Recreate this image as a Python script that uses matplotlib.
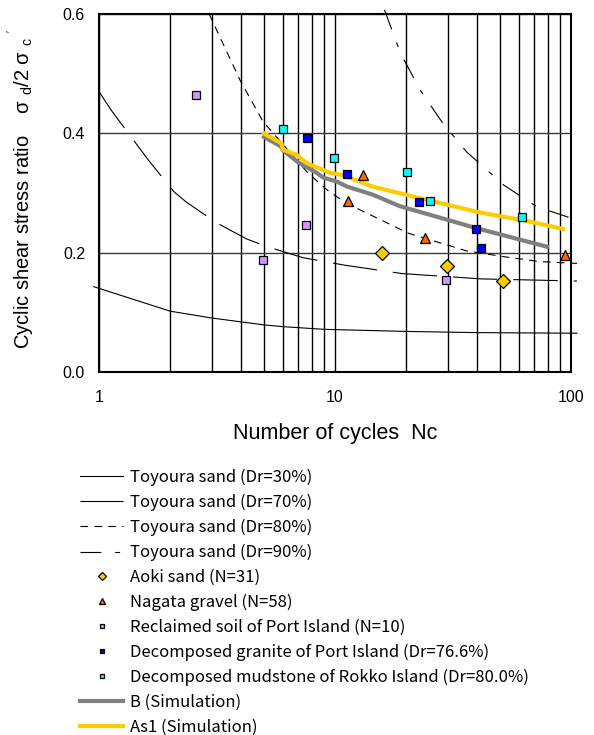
import matplotlib
matplotlib.use("Agg")
import matplotlib.pyplot as plt
from matplotlib.ticker import FixedLocator, NullFormatter

plt.rcParams['font.family'] = ['Liberation Sans', 'DejaVu Sans']
plt.rcParams['mathtext.fontset'] = 'custom'
plt.rcParams['mathtext.rm'] = 'Liberation Sans'
plt.rcParams['mathtext.default'] = 'regular'
plt.rcParams['lines.scale_dashes'] = False

# ---------------- data ----------------
toyo30_n = [0.95, 2, 3, 4, 5, 6, 9, 20, 40, 106]
toyo30_v = [0.143, 0.102, 0.0905, 0.084, 0.079, 0.076, 0.0715, 0.068, 0.066, 0.065]

toyo70_n = [1, 1.13, 1.62, 2.08, 2.34, 3.15, 4.22, 5.25, 7.34, 11.0, 19.2, 41.8, 106]
toyo70_v = [0.47, 0.438, 0.355, 0.302, 0.285, 0.25, 0.223, 0.209, 0.1915, 0.179, 0.165, 0.156, 0.1525]

toyo80_n = [2.93, 3.96, 4.95, 7.7, 9.4, 11, 12.8, 20.5, 36.1, 52.5, 73.9, 106]
toyo80_v = [0.600, 0.489, 0.42, 0.333, 0.303, 0.285, 0.2715, 0.2325, 0.203, 0.193, 0.185, 0.182]

toyo90_n = [16.2, 19.0, 23.1, 28.5, 36.1, 52, 71.6, 106]
toyo90_v = [0.607, 0.533, 0.471, 0.418, 0.369, 0.313, 0.277, 0.2547]

simB_n = [5, 5.9, 6.0, 7.0, 8.35, 8.9, 10.2, 11.2, 14.5, 18.8, 39.8, 79]
simB_v = [0.394, 0.378, 0.372, 0.351, 0.334, 0.326, 0.319, 0.311, 0.297, 0.278, 0.241, 0.21]

simAs1_n = [5, 5.94, 6.0, 6.88, 7.59, 9.52, 10.8, 14.5, 21.5, 39.8, 67, 92.7]
simAs1_v = [0.40, 0.383, 0.373, 0.364, 0.350, 0.334, 0.330, 0.3105, 0.294, 0.2686, 0.252, 0.2397]

aoki_n = [15.8, 29.9, 51.7]
aoki_v = [0.200, 0.178, 0.1525]
nagata_n = [11.4, 13.2, 24.1, 94.3]
nagata_v = [0.287, 0.330, 0.225, 0.196]
reclaimed_n = [2.57, 4.94, 7.52, 29.4]
reclaimed_v = [0.465, 0.187, 0.247, 0.155]
granite_n = [7.61, 11.2, 22.8, 39.4, 41.4]
granite_v = [0.392, 0.332, 0.285, 0.239, 0.207]
mudstone_n = [6.04, 9.93, 20.2, 25.3, 62.2]
mudstone_v = [0.407, 0.358, 0.336, 0.287, 0.259]

labels = ["Toyoura sand (Dr=30%)", "Toyoura sand (Dr=70%)", "Toyoura sand (Dr=80%)",
          "Toyoura sand (Dr=90%)", "Aoki sand (N=31)", "Nagata gravel (N=58)",
          "Reclaimed soil of Port Island (N=10)", "Decomposed granite of Port Island (Dr=76.6%)",
          "Decomposed mudstone of Rokko Island (Dr=80.0%)", "B (Simulation)", "As1 (Simulation)"]
yticks = [0.0, 0.2, 0.4, 0.6]
xticks = [1, 10, 100]

# ---------------- figure ----------------
fig = plt.figure(figsize=(5.94, 7.35), dpi=100)
ax = fig.add_axes([99 / 594, 1 - 372 / 735, 472 / 594, 358 / 735])
ax.set_xscale('log')
ax.set_xlim(1, 100)
ax.set_ylim(0, 0.6)

ax.xaxis.set_major_locator(FixedLocator(xticks))
ax.xaxis.set_minor_locator(FixedLocator([k * d for d in (1, 10) for k in range(2, 10)]))
ax.xaxis.set_minor_formatter(NullFormatter())
ax.set_xticklabels([str(x) for x in xticks])
ax.set_yticks(yticks)
ax.set_yticklabels([f"{y:.1f}" for y in yticks])
ax.tick_params(which='both', length=0, labelsize=11.5)
ax.tick_params(axis='y', pad=10)
ax.tick_params(axis='x', pad=13)
ax.grid(axis='x', which='both', color='black', lw=1.0)
ax.grid(axis='y', which='major', color='#3a3a3a', lw=1.0)
for s in ax.spines.values():
    s.set_linewidth(1.5)
    s.set_color('black')
    s.set_zorder(5)

lw_thin = 0.8
handles = []
h, = ax.plot(toyo30_n, toyo30_v, color='black', lw=lw_thin, clip_on=False)
handles.append(h)
h, = ax.plot(toyo70_n, toyo70_v, color='black', lw=lw_thin, dashes=(32, 11.5), clip_on=False)
handles.append(h)
h, = ax.plot(toyo80_n, toyo80_v, color='black', lw=lw_thin, dashes=(5.5, 4.5), clip_on=False)
handles.append(h)
h, = ax.plot(toyo90_n, toyo90_v, color='black', lw=lw_thin, dashes=(15, 10, 3.5, 10), clip_on=False)
handles.append(h)

mk = dict(ls='none', mec='black', mew=0.9, zorder=6)
h, = ax.plot(aoki_n, aoki_v, marker='D', ms=7, mfc='#FFCC00', **mk)
handles.append(h)
h, = ax.plot(nagata_n, nagata_v, marker='^', ms=7, mfc='#FF6600', **mk)
handles.append(h)
h, = ax.plot(reclaimed_n, reclaimed_v, marker='s', ms=5.5, mfc='#CC99FF', **mk)
handles.append(h)
h, = ax.plot(granite_n, granite_v, marker='s', ms=5.5, mfc='#0000FF', **mk)
handles.append(h)
h, = ax.plot(mudstone_n, mudstone_v, marker='s', ms=5.5, mfc='#00FFFF', **mk)
handles.append(h)
h, = ax.plot(simB_n, simB_v, color='#808080', lw=3, zorder=4, solid_joinstyle='miter')
handles.append(h)
h, = ax.plot(simAs1_n, simAs1_v, color='#FFCC00', lw=3, zorder=4.5, solid_joinstyle='miter')
handles.append(h)

ax.set_xlabel("Number of cycles  Nc", fontsize=15.5, labelpad=13)
fig.text(22 / 594, 1 - 189 / 735,
         "Cyclic shear stress ratio    σ $_\\mathregular{d}$/2 σ $_\\mathregular{c}$ $^\\mathregular{'}$",
         rotation=90, ha='center', va='center', fontsize=14.5)

leg = fig.legend(handles, labels, loc='upper left', bbox_to_anchor=(80 / 594, 1 - 469 / 735),
                 frameon=False, borderpad=0, borderaxespad=0, handlelength=2.6,
                 handletextpad=0.4, labelspacing=0.47, markerscale=0.6,
                 prop={'family': ['Noto Sans CJK JP', 'DejaVu Sans'], 'size': 12})

fig.savefig('out.png', dpi=100)
